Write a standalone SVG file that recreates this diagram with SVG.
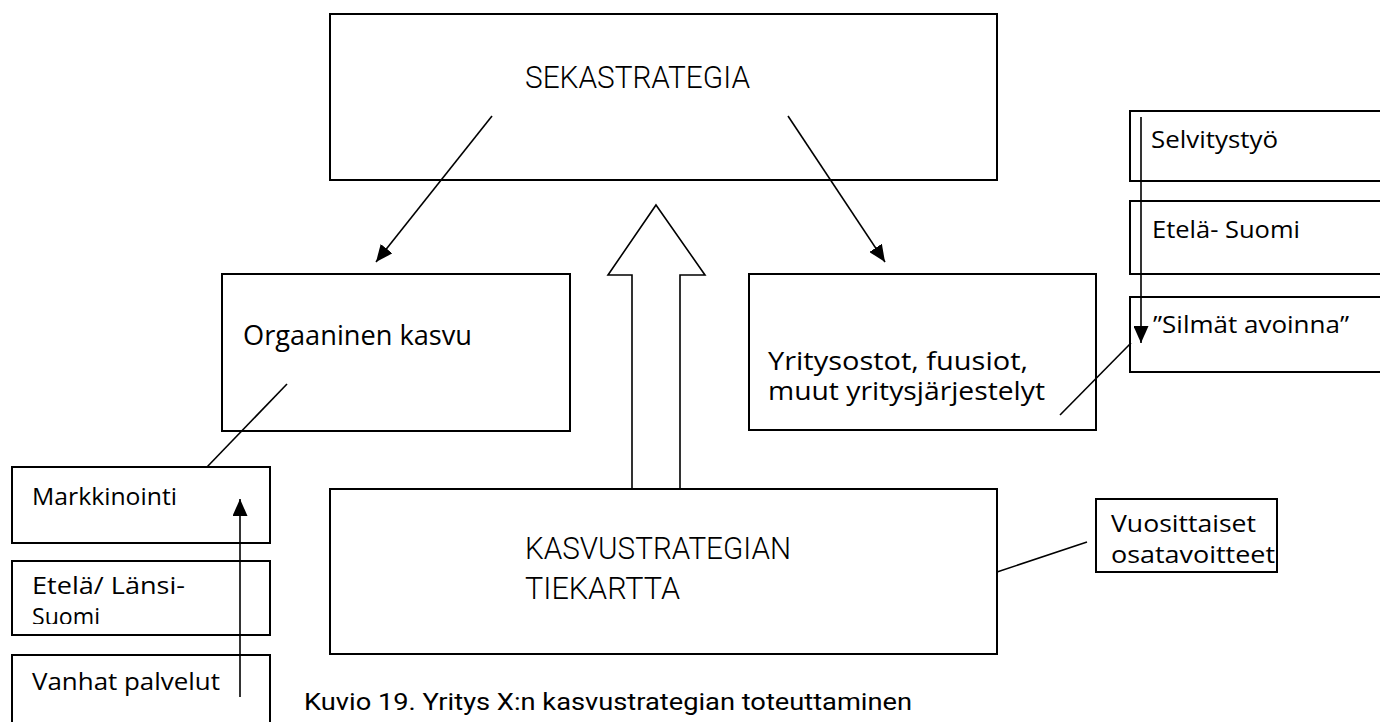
<svg xmlns="http://www.w3.org/2000/svg" width="1380" height="722" viewBox="0 0 1380 722">
  <style>
    .box { fill: #ffffff; stroke: #000000; stroke-width: 2; }
    .ln { fill: none; stroke: #000000; stroke-width: 1.6; }
    .arr { fill: none; stroke: #000000; stroke-width: 1.6; marker-end: url(#head); }
    .body { font-family: "Open Sans", "DejaVu Sans", sans-serif; font-size: 26px; fill: #000000; }
    .small { font-family: "Open Sans", "DejaVu Sans", sans-serif; font-size: 24px; fill: #000000; }
    .caps { font-family: Roboto, "Liberation Sans", sans-serif; font-weight: 300; font-size: 31px; fill: #000000; }
    .cap { font-family: Roboto, "Liberation Sans", sans-serif; font-weight: 400; font-size: 24px; fill: #000000; }
  </style>
  <defs>
    <marker id="head" viewBox="0 0 17 15" refX="17" refY="7.5" markerWidth="17" markerHeight="15" markerUnits="userSpaceOnUse" orient="auto">
      <path d="M0,0 L17,7.5 L0,15 z" fill="#000000"/>
    </marker>
    <clipPath id="clipLansi"><rect x="0" y="555" width="280" height="69"/></clipPath>
    <clipPath id="clipVuosi"><rect x="1090" y="495" width="200" height="70"/></clipPath>
  </defs>
  <rect x="0" y="0" width="1380" height="722" fill="#ffffff"/>

  <!-- top level strategy -->
  <g id="sekastrategia">
    <rect class="box" x="330" y="14" width="667" height="166"/>
    <text class="caps" x="525" y="88" font-size="32" textLength="225" lengthAdjust="spacingAndGlyphs">SEKASTRATEGIA</text>
  </g>

  <g id="orgaaninen">
    <rect class="box" x="222" y="274" width="348" height="157"/>
    <text class="body" x="243" y="345" style="font-size:27px" textLength="229" lengthAdjust="spacingAndGlyphs">Orgaaninen kasvu</text>
  </g>

  <g id="yritysostot">
    <rect class="box" x="749" y="274" width="347" height="156"/>
    <text class="body" x="768" y="370" style="font-size:25px" textLength="260" lengthAdjust="spacingAndGlyphs">Yritysostot, fuusiot,</text>
    <text class="body" x="768" y="400" style="font-size:25px" textLength="277" lengthAdjust="spacingAndGlyphs">muut yritysjärjestelyt</text>
  </g>

  <g id="tiekartta">
    <rect class="box" x="330" y="489" width="667" height="165"/>
    <text class="caps" x="525" y="559" textLength="266" lengthAdjust="spacingAndGlyphs">KASVUSTRATEGIAN</text>
    <text class="caps" x="525" y="599" textLength="155" lengthAdjust="spacingAndGlyphs">TIEKARTTA</text>
  </g>

  <!-- left column -->
  <g id="markkinointi">
    <rect class="box" x="12" y="467" width="258" height="76"/>
    <text class="small" x="32" y="505" textLength="145" lengthAdjust="spacingAndGlyphs">Markkinointi</text>
  </g>
  <g id="etela-lansi">
    <rect class="box" x="12" y="561" width="258" height="74"/>
    <g clip-path="url(#clipLansi)">
      <text class="small" x="32" y="594" textLength="153" lengthAdjust="spacingAndGlyphs">Etelä/ Länsi-</text>
      <text class="small" x="32" y="625" textLength="68" lengthAdjust="spacingAndGlyphs">Suomi</text>
    </g>
  </g>
  <g id="vanhat">
    <rect class="box" x="12" y="655" width="258" height="80"/>
    <text class="small" x="32" y="690" textLength="188" lengthAdjust="spacingAndGlyphs">Vanhat palvelut</text>
  </g>

  <!-- right column -->
  <g id="selvitystyo">
    <rect class="box" x="1130" y="111" width="270" height="70"/>
    <text class="small" x="1151" y="148" textLength="127" lengthAdjust="spacingAndGlyphs">Selvitystyö</text>
  </g>
  <g id="etela-suomi">
    <rect class="box" x="1130" y="201" width="270" height="73"/>
    <text class="small" x="1152" y="238" textLength="148" lengthAdjust="spacingAndGlyphs">Etelä- Suomi</text>
  </g>
  <g id="silmat">
    <rect class="box" x="1130" y="297" width="270" height="75"/>
    <text class="small" x="1153" y="333" textLength="196" lengthAdjust="spacingAndGlyphs">”Silmät avoinna”</text>
  </g>

  <g id="vuosittaiset">
    <rect class="box" x="1096" y="499" width="181" height="73"/>
    <g clip-path="url(#clipVuosi)">
      <text class="small" x="1111" y="532" textLength="145" lengthAdjust="spacingAndGlyphs">Vuosittaiset</text>
      <text class="small" x="1111" y="563" textLength="164" lengthAdjust="spacingAndGlyphs">osatavoitteet</text>
    </g>
  </g>

  <g id="caption">
    <text class="cap" x="304" y="710" textLength="608" lengthAdjust="spacingAndGlyphs">Kuvio 19. Yritys X:n kasvustrategian toteuttaminen</text>
  </g>

  <!-- connectors -->
  <g id="connectors">
    <line class="arr" x1="492" y1="116" x2="376" y2="262"/>
    <line class="arr" x1="788" y1="116" x2="885" y2="262"/>
    <polygon class="ln" stroke-width="2" fill="#ffffff" points="656,205 705,275 680,275 680,489 632,489 632,275 608,275"/>
    <line class="ln" x1="287" y1="384" x2="207" y2="467"/>
    <line class="arr" x1="240" y1="697" x2="240" y2="499"/>
    <line class="ln" x1="1060" y1="415" x2="1131" y2="343"/>
    <line class="arr" x1="1141" y1="117" x2="1141" y2="343"/>
    <line class="ln" x1="997" y1="572" x2="1087" y2="542"/>
  </g>
</svg>
